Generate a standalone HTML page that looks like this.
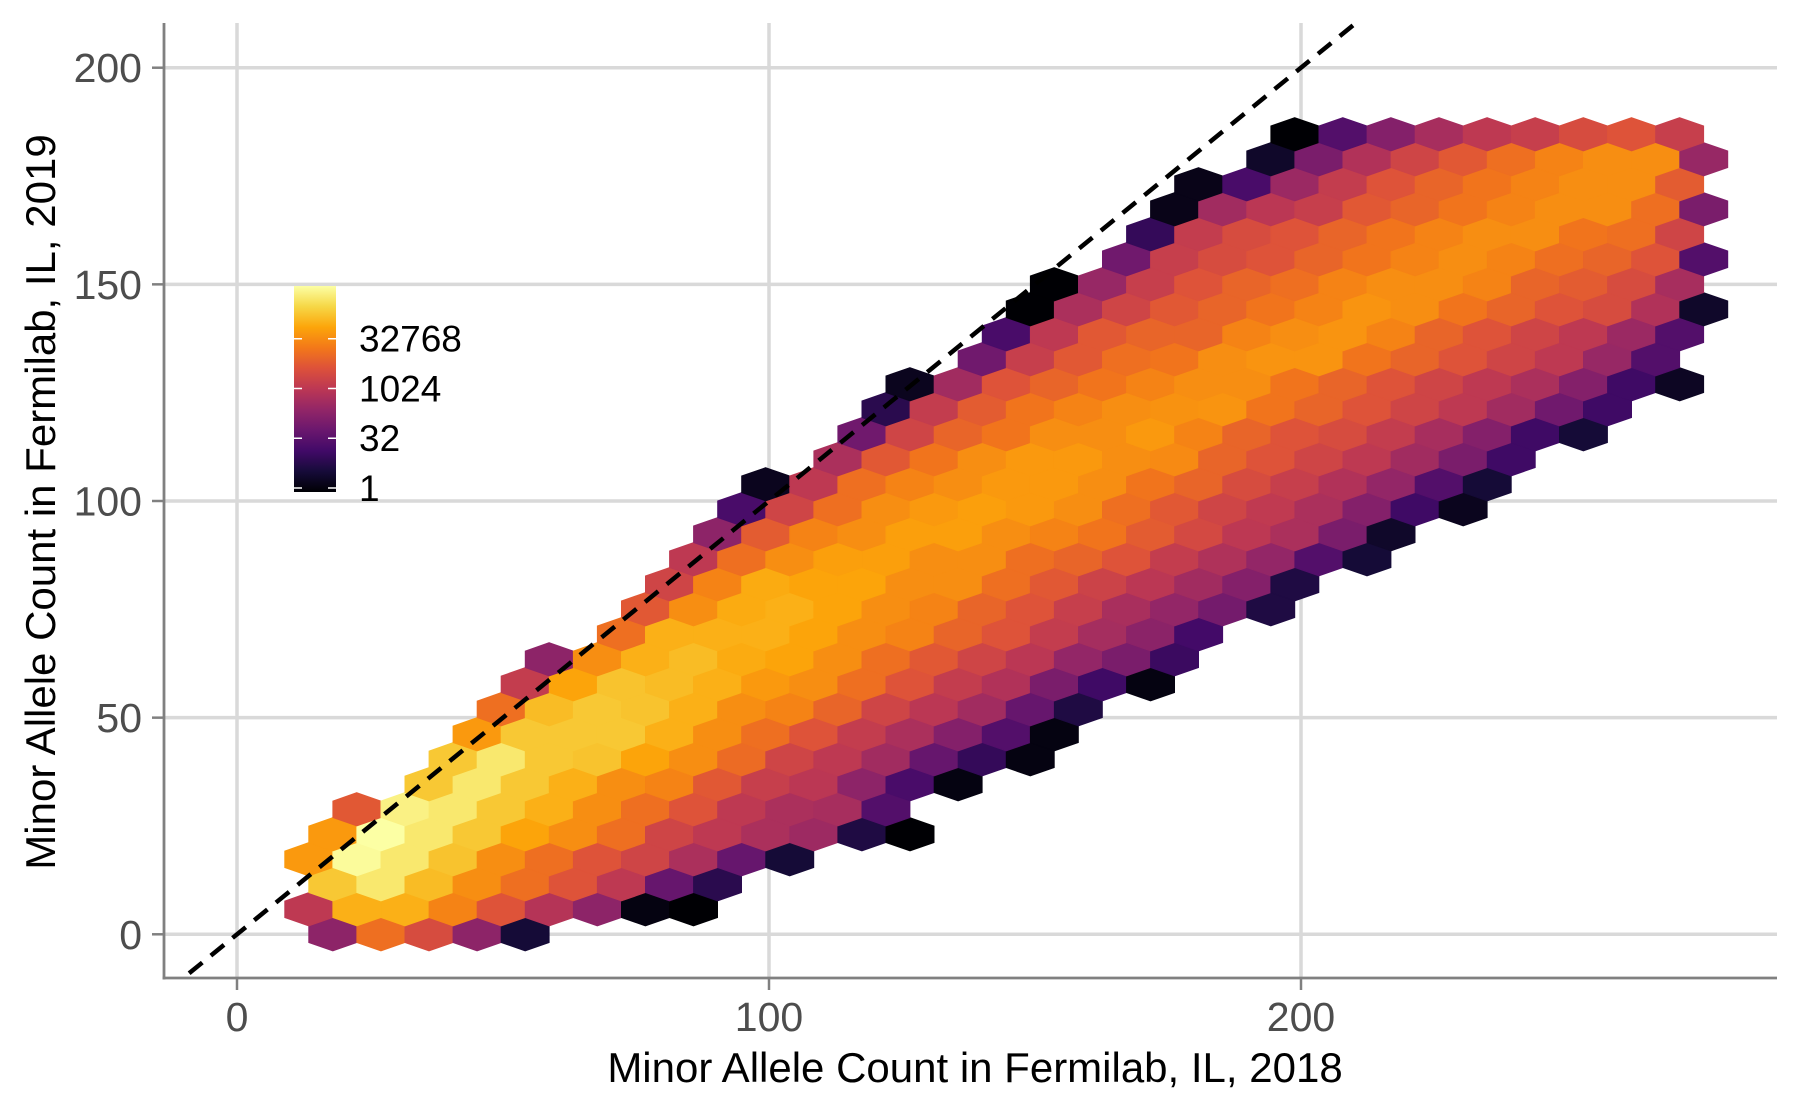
<!DOCTYPE html>
<html><head><meta charset="utf-8"><style>
html,body{margin:0;padding:0;background:#fff;}
svg{display:block;font-family:"Liberation Sans",Arial,sans-serif;}
</style></head><body>
<svg id="chart" width="1800" height="1113" viewBox="0 0 1800 1113" xmlns="http://www.w3.org/2000/svg">
<defs>
<clipPath id="panelClip"><rect x="165" y="23" width="1612" height="955"/></clipPath>
<linearGradient id="infernoGrad" x1="0" y1="1" x2="0" y2="0"></linearGradient>
</defs>
<g id="grid"></g>
<g id="hexes"></g>
<g id="refline" clip-path="url(#panelClip)"></g>
<g id="axes"></g>
<g id="legend"></g>
<text x="975" y="1082" font-size="42" text-anchor="middle" fill="#000">Minor Allele Count in Fermilab, IL, 2018</text>
<text transform="translate(55,502) rotate(-90)" font-size="42" text-anchor="middle" fill="#000">Minor Allele Count in Fermilab, IL, 2019</text>
</svg>
<script>
// ---- data ----
const xTicks = [0, 100, 200];
const yTicks = [0, 50, 100, 150, 200];
const legendTicks = [1, 32, 1024, 32768];
// hex grid: rows from bottom; first half-column index per row; log2(count) of each hex in that row
const rowStart = [0,-1,0,-1,0,1,4,5,6,7,8,9,12,13,14,15,16,17,18,21,22,23,24,27,28,29,30,33,34,35,36,39,40];
const row00 = [8,14,12,8,2];
const row01 = [10.5,17,17,15,12.5,10,8,0.5,0];
const row02 = [18,19.5,17.5,15.5,14,12.5,10.5,6,3];
const row03 = [16,20.5,19.5,17.8,15.5,14,12.5,11.5,9.5,6,2];
const row04 = [16,20.7,19.5,18,16.5,15.5,14,11.5,10.5,9.5,8.8,2.5,0];
const row05 = [12.8,20,19.5,18,17,15.5,14,12.5,10.5,9.5,9.3,5];
const row06 = [18,19.5,18,17,15.5,15,12.8,11,10.3,8,4.5,0.5];
const row07 = [18,19.5,18,17.8,16.5,15.5,13.8,11.5,10.5,9,6,3.5,0.5];
const row08 = [16,18,18,18,17,15.5,14,12.5,10.8,9.5,7.5,5,0.5];
const row09 = [14,17.5,18,17.8,17,15.5,15,13.5,11.5,10.3,9,6,2.5];
const row10 = [10.8,16.5,17.8,17.5,17,16,15.5,14,12.5,10.8,9.8,7,4,0.5];
const row11 = [8,15.5,17,17.5,16.8,16.5,15.5,14,12.8,11.5,10.3,8.3,7,3.8];
const row12 = [14,17,17,17,16.5,15.5,15,13.5,12.5,10.8,9.2,7.9,4.2];
const row13 = [12.8,15.5,16.8,17,16.5,15.5,15,13.5,12.5,11,9.4,8.3,6.7,2.5];
const row14 = [11.5,15,16.8,16.5,16.5,15.5,15.5,14,12.8,11.3,10.3,9,7.5,2.5];
const row15 = [10.5,14,15.5,16.3,16.3,15.5,15.5,14,13.5,12.5,10.8,9.7,8.3,5,2];
const row16 = [8,13,15,15.5,16.3,16.3,15.5,15,14.3,13,11.8,10.4,9.5,7,1.5];
const row17 = [4.5,11.5,14,15.5,16,16.3,16,15.5,14,12.8,11.5,10.6,9.5,7.5,4,1];
const row18 = [1,10.5,14,15,15.5,16,16,15.5,14.3,13.5,12,11,9.8,8.3,5,2];
const row19 = [9.5,12.8,14.3,15.5,16,16,15.5,15.3,13.5,12.5,11.5,10.5,9,7,4];
const row20 = [6.5,11.5,13.5,14.3,15.5,15.5,16,15,13.5,12.5,12,10.8,9.3,7.5,4,2];
const row21 = [3,10.8,13,14.3,15,15.5,15.7,15.8,14.3,13.5,12.5,11.5,10.5,9,6.5,4];
const row22 = [1,9,12.5,13.5,14.3,15,15.5,15.5,14.3,13.5,12.5,11.5,10.5,9.5,7.5,4,1.2];
const row23 = [6.5,11,12.8,14,14.3,15.5,15.8,15.8,14.3,13.5,12.5,11.5,10.5,8.5,5];
const row24 = [4.5,10.5,12.8,13.5,13.5,15,15.5,15.8,15,13.5,12.5,11.5,10.5,8.7,5];
const row25 = [0,9.5,11.5,12.8,13.5,14.3,15,15.8,15.5,14.3,13.5,12.5,12,9.8,1.5];
const row26 = [0,8.5,11,12.5,13.5,14,15,15.5,15.5,15,13.5,13,12,9.3];
const row27 = [6.5,11,12,12.5,13.5,14.3,15,15.5,15,14,13.5,12.5,5];
const row28 = [3.5,10.8,12,12.5,13.5,14.3,15,15.5,15.5,14.3,14,11.5];
const row29 = [0.8,9,10.3,11,12.8,13.5,14.3,15,15.5,15.5,14,7];
const row30 = [0.8,4.5,8.7,10.8,12.5,13.5,14.3,15,15.5,15.5,13];
const row31 = [1.5,7,9.8,11.5,12.8,14,15,15.5,15.5,8.5];
const row32 = [0,5,7.5,9.3,10.5,11,12,12.5,11];
const rowValues = [row00,row01,row02,row03,row04,row05,row06,row07,row08,row09,row10,row11,row12,row13,row14,row15,row16,row17,row18,row19,row20,row21,row22,row23,row24,row25,row26,row27,row28,row29,row30,row31,row32];
const maxLog2 = 20.7;
const legendMaxLog2 = 20.3;

// ---- scales ----
const NS = "http://www.w3.org/2000/svg";
const X0 = 237, XK = 5.32, Y0 = 934.3, YK = 4.333;
function xScale(v){ return X0 + v * XK; }
function yScale(v){ return Y0 - v * YK; }
const hexOriginX = 18.0, hexHalfW = 4.521, hexRowH = 5.77; // data units
const inferno = ["#000004","#160b39","#420a68","#6a176e","#932667","#bc3754","#dd513a","#f37819","#fca50a","#f6d746","#fcffa4"];
function hexToRgb(h){return [parseInt(h.slice(1,3),16),parseInt(h.slice(3,5),16),parseInt(h.slice(5,7),16)];}
function colorAt(t){
  t = Math.max(0, Math.min(1, t));
  const p = t * (inferno.length - 1), i = Math.min(Math.floor(p), inferno.length - 2), f = p - i;
  const a = hexToRgb(inferno[i]), b = hexToRgb(inferno[i+1]);
  return "rgb(" + a.map((c,k)=>Math.round(c + (b[k]-c)*f)).join(",") + ")";
}
function mk(tag, attrs, parent){
  const e = document.createElementNS(NS, tag);
  for (const k in attrs) e.setAttribute(k, attrs[k]);
  parent.appendChild(e);
  return e;
}

// gridlines
const grid = document.getElementById("grid");
xTicks.forEach(v => {
  const l = mk("line", {x1:xScale(v), x2:xScale(v), y1:23, y2:978, stroke:"#d9d9d9", "stroke-width":3.5}, grid);
  
  
});
yTicks.forEach(v => {
  const l = mk("line", {x1:165, x2:1777, y1:yScale(v), y2:yScale(v), stroke:"#d9d9d9", "stroke-width":3.5}, grid);
  
  
});

// hexes
const hexG = document.getElementById("hexes");
const hw = hexHalfW * XK, hh = (hexRowH * YK) * 2 / 3;
rowValues.forEach((vals, r) => {
  vals.forEach((lv, k) => {
    const hIdx = rowStart[r] + 2 * k;
    const cx = xScale(hexOriginX + hIdx * hexHalfW);
    const cy = yScale(r * hexRowH);
    const pts = [[0,-hh],[hw,-hh/2],[hw,hh/2],[0,hh],[-hw,hh/2],[-hw,-hh/2]]
      .map(p => (cx+p[0]).toFixed(1)+","+(cy+p[1]).toFixed(1)).join(" ");
    const c = colorAt(lv / maxLog2);
    const poly = mk("polygon", {points:pts, fill:c, stroke:c, "stroke-width":0.8}, hexG);
    
    
  });
});

// identity line
const ref = document.getElementById("refline");
const rl = mk("line", {x1:xScale(-9), y1:yScale(-9), x2:xScale(216), y2:yScale(216), stroke:"#000", "stroke-width":4.5, "stroke-dasharray":"17 11"}, ref);



// axes
const axes = document.getElementById("axes");
const al = mk("line", {x1:164, x2:164, y1:23, y2:979.5, stroke:"#808080", "stroke-width":2.8}, axes);


const ab = mk("line", {x1:162.6, x2:1777, y1:978, y2:978, stroke:"#808080", "stroke-width":2.8}, axes);


xTicks.forEach(v => {
  const t = mk("line", {x1:xScale(v), x2:xScale(v), y1:978, y2:990, stroke:"#808080", "stroke-width":2.5}, axes);
  
  
  const lab = mk("text", {x:xScale(v), y:1031, "font-size":41, "text-anchor":"middle", fill:"#4d4d4d"}, axes);
  lab.textContent = v;
  
  
});
yTicks.forEach(v => {
  const t = mk("line", {x1:152, x2:164, y1:yScale(v), y2:yScale(v), stroke:"#808080", "stroke-width":2.5}, axes);
  
  
  const lab = mk("text", {x:142, y:yScale(v)+14.5, "font-size":41, "text-anchor":"end", fill:"#4d4d4d"}, axes);
  lab.textContent = v;
  
  
});

// legend
const grad = document.getElementById("infernoGrad");
inferno.forEach((c,i) => { mk("stop", {offset:(i/(inferno.length-1)), "stop-color":c}, grad); });
const leg = document.getElementById("legend");
const lgTop = 286, lgBot = 488, lgX = 294, lgW = 42;
const lgScale = v => lgBot - (Math.log2(v) / legendMaxLog2) * (lgBot - lgTop);
const bar = mk("rect", {x:lgX, y:lgTop, width:lgW, height:lgBot - lgTop + 4, fill:"url(#infernoGrad)"}, leg);


legendTicks.forEach(v => {
  const y = lgScale(v);
  const t1 = mk("line", {x1:lgX, x2:lgX+8, y1:y, y2:y, stroke:"#fff", "stroke-width":1.5}, leg);
  
  
  const t2 = mk("line", {x1:lgX+lgW-8, x2:lgX+lgW, y1:y, y2:y, stroke:"#fff", "stroke-width":1.5}, leg);
  
  
  const lab = mk("text", {x:359, y:y+13, "font-size":37, fill:"#000"}, leg);
  lab.textContent = v;
  
  
});
</script>
</body></html>
